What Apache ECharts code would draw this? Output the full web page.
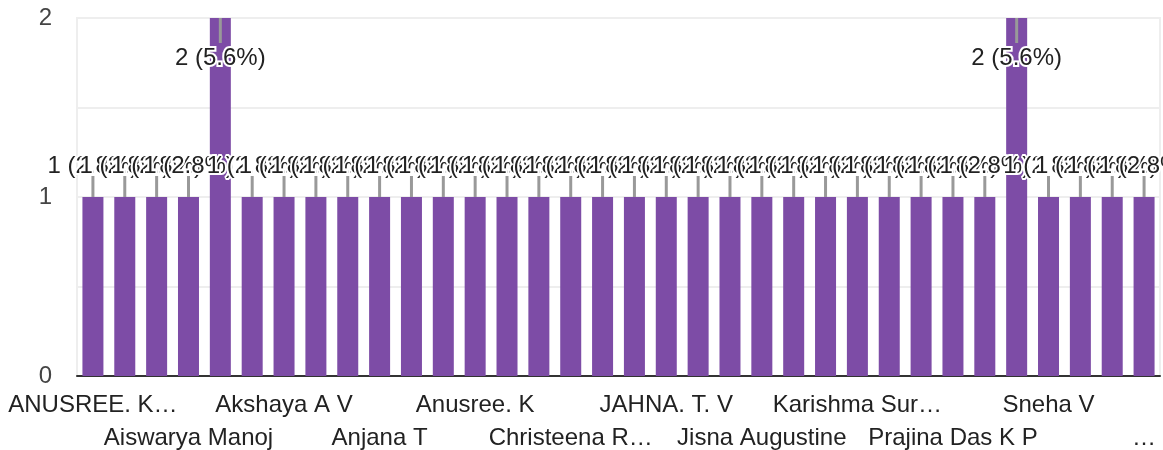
<!doctype html>
<html>
<head>
<meta charset="utf-8">
<title>Responses</title>
<script src="https://cdn.jsdelivr.net/npm/echarts@6/dist/echarts.min.js"></script>
<style>
  html, body { margin: 0; padding: 0; background: #fff; }
  #chart { width: 1163px; height: 450px; }
</style>
</head>
<body>
<div id="chart"></div>
<script>
// categories (only every 3rd name is readable on the chart, the rest are hidden by the axis)
var names = [
  'ANUSREE. K…', 'Name 2', 'Name 3', 'Aiswarya Manoj', 'Name 5', 'Name 6',
  'Akshaya A V', 'Name 8', 'Name 9', 'Anjana T', 'Name 11', 'Name 12',
  'Anusree. K', 'Name 14', 'Name 15', 'Christeena R…', 'Name 17', 'Name 18',
  'JAHNA. T. V', 'Name 20', 'Name 21', 'Jisna Augustine', 'Name 23', 'Name 24',
  'Karishma Sur…', 'Name 26', 'Name 27', 'Prajina Das K P', 'Name 29', 'Name 30',
  'Sneha V', 'Name 32', 'Name 33', '…'
];
// counts per name
var counts = [
  1, 1, 1, 1, 2, 1, 1, 1, 1, 1, 1, 1,
  1, 1, 1, 1, 1, 1, 1, 1, 1, 1, 1, 1,
  1, 1, 1, 1, 1, 2, 1, 1, 1, 1
];
var yTicks = [0, 1, 2];

var total = counts.reduce(function (a, b) { return a + b; }, 0);
var yMax = yTicks[yTicks.length - 1];
var FONT = 'Arial, "Liberation Sans", sans-serif';

var chart = echarts.init(document.getElementById('chart'));

chart.setOption({
  animation: false,
  grid: {
    left: 77, right: 3, top: 18, bottom: 74,
    outerBoundsMode: 'none',
    show: true,
    borderColor: '#eeeeee',
    borderWidth: 2
  },
  xAxis: {
    type: 'category',
    data: names,
    axisTick: { show: false },
    axisLine: { lineStyle: { color: '#333', width: 2 } },
    axisLabel: {
      interval: 0,
      margin: 13,
      color: '#222',
      fontFamily: FONT,
      fontSize: 24,
      lineHeight: 33,
      formatter: function (value, idx) {
        // every 3rd name, staggered on two rows
        if (idx % 6 === 0) return value;
        if (idx % 6 === 3) return '\n' + value;
        return '';
      }
    }
  },
  yAxis: {
    type: 'value',
    min: 0,
    max: yMax,
    interval: 0.5,
    axisLine: { show: false },
    axisTick: { show: false },
    splitLine: { lineStyle: { color: '#eeeeee', width: 2 } },
    axisLabel: {
      margin: 25,
      color: '#444',
      fontFamily: FONT,
      fontSize: 24,
      showMinLabel: true,
      formatter: function (v) {
        return yTicks.indexOf(v) >= 0 ? String(v) : '';
      }
    }
  },
  series: [
    {
      type: 'bar',
      data: counts,
      barWidth: 21,
      itemStyle: { color: '#7d4ca6' }
    },
    {
      // leader lines and value labels
      type: 'custom',
      z: 5,
      data: counts.map(function (v, i) { return [i, v]; }),
      renderItem: function (params, api) {
        var i = api.value(0), v = api.value(1);
        var top = api.coord([i, v]);
        var text = v + ' (' + (v / total * 100).toFixed(1) + '%)';
        var inside = v >= yMax;
        var y1 = inside ? top[1] + 25 : top[1] - 21;
        var ty = inside ? top[1] + 40 : top[1] - 31;
        return {
          type: 'group',
          children: [
            {
              type: 'line',
              shape: { x1: top[0], y1: top[1], x2: top[0], y2: y1 },
              style: { stroke: '#999', lineWidth: 3 }
            },
            {
              type: 'text',
              x: top[0],
              y: ty,
              style: {
                text: text,
                font: '24px ' + FONT,
                fill: '#222',
                stroke: '#fff',
                lineWidth: 4,
                align: 'center',
                verticalAlign: 'middle'
              }
            }
          ]
        };
      }
    }
  ]
});
</script>
</body>
</html>
